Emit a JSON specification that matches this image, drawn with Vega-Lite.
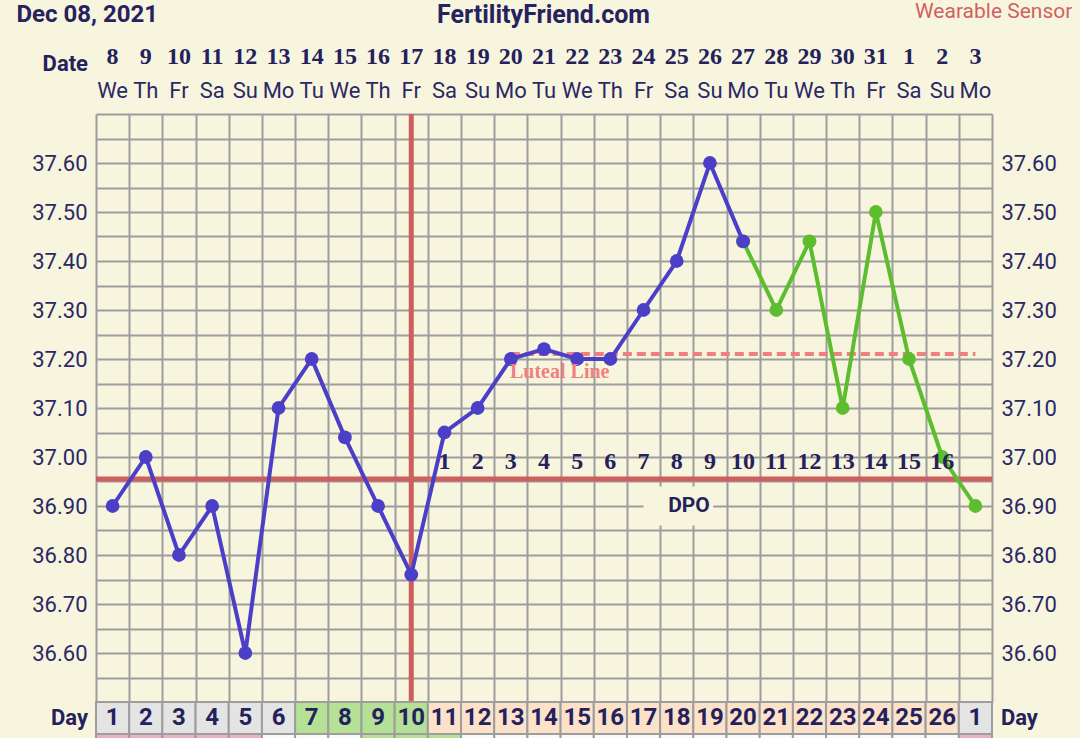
{
  "$schema": "https://vega.github.io/schema/vega-lite/v6.json",
  "width": 896,
  "height": 588,
  "autosize": {"type": "none"},
  "padding": {"left": 96, "top": 114, "right": 88, "bottom": 36},
  "background": "#f7f5de",
  "config": {"view": {"stroke": null}, "font": "Roboto"},
  "datasets": {
    "days": [
      {"i": 1, "date": "8", "wd": "We", "cd": "1", "dpo": null, "cell": "gray", "strip": "pink"},
      {"i": 2, "date": "9", "wd": "Th", "cd": "2", "dpo": null, "cell": "gray", "strip": "pink"},
      {"i": 3, "date": "10", "wd": "Fr", "cd": "3", "dpo": null, "cell": "gray", "strip": "pink"},
      {"i": 4, "date": "11", "wd": "Sa", "cd": "4", "dpo": null, "cell": "gray", "strip": "pink"},
      {"i": 5, "date": "12", "wd": "Su", "cd": "5", "dpo": null, "cell": "gray", "strip": "pink"},
      {"i": 6, "date": "13", "wd": "Mo", "cd": "6", "dpo": null, "cell": "gray", "strip": "white"},
      {"i": 7, "date": "14", "wd": "Tu", "cd": "7", "dpo": null, "cell": "green", "strip": "white"},
      {"i": 8, "date": "15", "wd": "We", "cd": "8", "dpo": null, "cell": "green", "strip": "white"},
      {"i": 9, "date": "16", "wd": "Th", "cd": "9", "dpo": null, "cell": "green", "strip": "green"},
      {"i": 10, "date": "17", "wd": "Fr", "cd": "10", "dpo": null, "cell": "green", "strip": "green"},
      {"i": 11, "date": "18", "wd": "Sa", "cd": "11", "dpo": "1", "cell": "peach", "strip": "green"},
      {"i": 12, "date": "19", "wd": "Su", "cd": "12", "dpo": "2", "cell": "peach", "strip": "white"},
      {"i": 13, "date": "20", "wd": "Mo", "cd": "13", "dpo": "3", "cell": "peach", "strip": "white"},
      {"i": 14, "date": "21", "wd": "Tu", "cd": "14", "dpo": "4", "cell": "peach", "strip": "white"},
      {"i": 15, "date": "22", "wd": "We", "cd": "15", "dpo": "5", "cell": "peach", "strip": "white"},
      {"i": 16, "date": "23", "wd": "Th", "cd": "16", "dpo": "6", "cell": "peach", "strip": "white"},
      {"i": 17, "date": "24", "wd": "Fr", "cd": "17", "dpo": "7", "cell": "peach", "strip": "white"},
      {"i": 18, "date": "25", "wd": "Sa", "cd": "18", "dpo": "8", "cell": "peach", "strip": "white"},
      {"i": 19, "date": "26", "wd": "Su", "cd": "19", "dpo": "9", "cell": "peach", "strip": "white"},
      {"i": 20, "date": "27", "wd": "Mo", "cd": "20", "dpo": "10", "cell": "peach", "strip": "white"},
      {"i": 21, "date": "28", "wd": "Tu", "cd": "21", "dpo": "11", "cell": "peach", "strip": "white"},
      {"i": 22, "date": "29", "wd": "We", "cd": "22", "dpo": "12", "cell": "peach", "strip": "white"},
      {"i": 23, "date": "30", "wd": "Th", "cd": "23", "dpo": "13", "cell": "peach", "strip": "white"},
      {"i": 24, "date": "31", "wd": "Fr", "cd": "24", "dpo": "14", "cell": "peach", "strip": "white"},
      {"i": 25, "date": "1", "wd": "Sa", "cd": "25", "dpo": "15", "cell": "peach", "strip": "white"},
      {"i": 26, "date": "2", "wd": "Su", "cd": "26", "dpo": "16", "cell": "peach", "strip": "white"},
      {"i": 27, "date": "3", "wd": "Mo", "cd": "1", "dpo": null, "cell": "gray", "strip": "pink"}
    ],
    "temps": [
      {"day": 20, "temp": 37.44, "series": "green"},
      {"day": 21, "temp": 37.30, "series": "green"},
      {"day": 22, "temp": 37.44, "series": "green"},
      {"day": 23, "temp": 37.10, "series": "green"},
      {"day": 24, "temp": 37.50, "series": "green"},
      {"day": 25, "temp": 37.20, "series": "green"},
      {"day": 26, "temp": 37.00, "series": "green"},
      {"day": 27, "temp": 36.90, "series": "green"},
      {"day": 1, "temp": 36.90, "series": "blue"},
      {"day": 2, "temp": 37.00, "series": "blue"},
      {"day": 3, "temp": 36.80, "series": "blue"},
      {"day": 4, "temp": 36.90, "series": "blue"},
      {"day": 5, "temp": 36.60, "series": "blue"},
      {"day": 6, "temp": 37.10, "series": "blue"},
      {"day": 7, "temp": 37.20, "series": "blue"},
      {"day": 8, "temp": 37.04, "series": "blue"},
      {"day": 9, "temp": 36.90, "series": "blue"},
      {"day": 10, "temp": 36.76, "series": "blue"},
      {"day": 11, "temp": 37.05, "series": "blue"},
      {"day": 12, "temp": 37.10, "series": "blue"},
      {"day": 13, "temp": 37.20, "series": "blue"},
      {"day": 14, "temp": 37.22, "series": "blue"},
      {"day": 15, "temp": 37.20, "series": "blue"},
      {"day": 16, "temp": 37.20, "series": "blue"},
      {"day": 17, "temp": 37.30, "series": "blue"},
      {"day": 18, "temp": 37.40, "series": "blue"},
      {"day": 19, "temp": 37.60, "series": "blue"},
      {"day": 20, "temp": 37.44, "series": "blue"}
    ]
  },
  "resolve": {"axis": {"y": "independent"}},
  "layer": [
    {
      "data": {"values": [{}]},
      "mark": {"type": "rect", "fill": "#f7f5de"},
      "encoding": {
        "x": {"datum": 17.0, "type": "quantitative", "scale": {"type": "linear", "domain": [0.5, 27.5], "nice": false, "zero": false, "padding": 0},
          "axis": {"values": [0.5,1.5,2.5,3.5,4.5,5.5,6.5,7.5,8.5,9.5,10.5,11.5,12.5,13.5,14.5,15.5,16.5,17.5,18.5,19.5,20.5,21.5,22.5,23.5,24.5,25.5,26.5,27.5],
            "tickCount": 40, "grid": true, "gridColor": "#9d9d9d", "gridWidth": 2, "gridOpacity": 1, "labels": false, "ticks": false, "domain": false, "title": null}},
        "x2": {"datum": 19.1},
        "y": {"datum": 36.94, "type": "quantitative", "scale": {"type": "linear", "domain": [36.5, 37.7], "nice": false, "zero": false, "padding": 0},
          "axis": {"orient": "left", "values": [36.5,36.55,36.6,36.65,36.7,36.75,36.8,36.85,36.9,36.95,37.0,37.05,37.1,37.15,37.2,37.25,37.3,37.35,37.4,37.45,37.5,37.55,37.6,37.65,37.7],
            "tickCount": 40, "grid": true, "gridColor": "#9d9d9d", "gridWidth": 2, "gridOpacity": 1, "ticks": false, "domain": false, "title": null,
            "labelExpr": "(datum.value > 36.57 && datum.value < 37.63 && abs(datum.value*10 - round(datum.value*10)) < 0.01) ? format(datum.value, '.2f') : ''",
            "labelOverlap": false, "labelFlush": false, "labelBound": false, "labelPadding": 9, "labelFont": "Roboto", "labelFontSize": 22, "labelColor": "#2b2866"}},
        "y2": {"datum": 36.86}
      }
    },
    {
      "data": {"values": [{}]},
      "mark": {"type": "rule", "color": "#cd5f5f", "strokeWidth": 5},
      "encoding": {"x": {"datum": 0.5}, "x2": {"datum": 27.5}, "y": {"datum": 36.955, "axis": null}}
    },
    {
      "data": {"values": [{}]},
      "mark": {"type": "rule", "color": "#cd5f5f", "strokeWidth": 5},
      "encoding": {"x": {"datum": 10}, "y": {"datum": 37.70, "axis": null}, "y2": {"datum": 36.50}}
    },
    {
      "data": {"values": [{}]},
      "mark": {"type": "rule", "color": "#f08080", "strokeWidth": 4, "strokeDash": [9, 5]},
      "encoding": {"x": {"datum": 13}, "x2": {"datum": 27}, "y": {"datum": 37.21, "axis": null}}
    },
    {
      "data": {"name": "temps"},
      "mark": {"type": "line", "strokeWidth": 4},
      "encoding": {
        "x": {"field": "day", "type": "quantitative"},
        "y": {"field": "temp", "type": "quantitative", "axis": null},
        "color": {"field": "series", "type": "nominal", "scale": {"domain": ["blue", "green"], "range": ["#4b3fc7", "#5cbd2f"]}, "legend": null}
      }
    },
    {
      "data": {"name": "temps"},
      "mark": {"type": "point", "filled": true, "opacity": 1, "size": 190},
      "encoding": {
        "x": {"field": "day", "type": "quantitative"},
        "y": {"field": "temp", "type": "quantitative",
          "axis": {"orient": "right", "values": [36.6,36.7,36.8,36.9,37.0,37.1,37.2,37.3,37.4,37.5,37.6], "format": ".2f", "tickCount": 40,
            "grid": false, "ticks": false, "domain": false, "title": null, "labelOverlap": false, "labelFlush": false, "labelBound": false,
            "labelPadding": 9, "labelFont": "Roboto", "labelFontSize": 22, "labelColor": "#2b2866"}},
        "color": {"field": "series", "type": "nominal", "legend": null}
      }
    },
    {
      "data": {"name": "days"},
      "transform": [{"filter": "datum.dpo != null"}],
      "mark": {"type": "text", "font": "Liberation Serif", "fontWeight": "bold", "fontSize": 24, "color": "#24215c", "baseline": "middle", "align": "center"},
      "encoding": {"x": {"field": "i", "type": "quantitative"}, "y": {"datum": 36.99, "axis": null}, "text": {"field": "dpo"}}
    },
    {
      "data": {"values": [{}]},
      "mark": {"type": "text", "text": "DPO", "font": "Roboto", "fontWeight": "bold", "fontSize": 21, "color": "#24215c", "baseline": "middle", "align": "center"},
      "encoding": {"x": {"datum": 18.37}, "y": {"datum": 36.90, "axis": null}}
    },
    {
      "data": {"values": [{}]},
      "mark": {"type": "text", "text": "Luteal Line", "font": "Liberation Serif", "fontWeight": "bold", "fontSize": 20, "color": "#f08080", "baseline": "middle", "align": "left"},
      "encoding": {"x": {"datum": 12.975}, "y": {"datum": 37.1735, "axis": null}}
    },
    {
      "data": {"name": "days"},
      "mark": {"type": "bar", "width": 33.185, "stroke": "#9d9d9d", "strokeWidth": 2},
      "encoding": {
        "x": {"field": "i", "type": "quantitative"},
        "y": {"datum": 36.50, "axis": null},
        "y2": {"datum": 36.4347},
        "fill": {"field": "cell", "type": "nominal", "scale": {"domain": ["gray", "green", "peach", "pink", "white"], "range": ["#e4e4e4", "#b4e196", "#fce2c9", "#e9b3c3", "#fafafa"]}, "legend": null}
      }
    },
    {
      "data": {"name": "days"},
      "mark": {"type": "bar", "width": 33.185, "stroke": "#9d9d9d", "strokeWidth": 2},
      "encoding": {
        "x": {"field": "i", "type": "quantitative"},
        "y": {"datum": 36.4347, "axis": null},
        "y2": {"datum": 36.39},
        "fill": {"field": "strip", "type": "nominal", "legend": null}
      }
    },
    {
      "data": {"name": "days"},
      "mark": {"type": "text", "font": "Roboto", "fontWeight": "bold", "fontSize": 24, "color": "#24215c", "baseline": "middle", "align": "center"},
      "encoding": {"x": {"field": "i", "type": "quantitative"}, "y": {"datum": 36.467, "axis": null}, "text": {"field": "cd"}}
    },
    {
      "data": {"name": "days"},
      "mark": {"type": "text", "font": "Liberation Serif", "fontWeight": "bold", "fontSize": 24, "color": "#24215c", "baseline": "middle", "align": "center"},
      "encoding": {"x": {"field": "i", "type": "quantitative"}, "y": {"datum": 37.816, "axis": null}, "text": {"field": "date"}}
    },
    {
      "data": {"name": "days"},
      "mark": {"type": "text", "font": "Roboto", "fontSize": 22, "color": "#2b2866", "baseline": "middle", "align": "center"},
      "encoding": {"x": {"field": "i", "type": "quantitative"}, "y": {"datum": 37.747, "axis": null}, "text": {"field": "wd"}}
    },
    {
      "data": {"values": [{}]},
      "mark": {"type": "text", "text": "Date", "font": "Roboto", "fontWeight": "bold", "fontSize": 22, "color": "#24215c", "baseline": "middle", "align": "right"},
      "encoding": {"x": {"datum": 0.259}, "y": {"datum": 37.802, "axis": null}}
    },
    {
      "data": {"values": [{}]},
      "mark": {"type": "text", "text": "Day", "font": "Roboto", "fontWeight": "bold", "fontSize": 22, "color": "#24215c", "baseline": "middle", "align": "right"},
      "encoding": {"x": {"datum": 0.259}, "y": {"datum": 36.467, "axis": null}}
    },
    {
      "data": {"values": [{}]},
      "mark": {"type": "text", "text": "Day", "font": "Roboto", "fontWeight": "bold", "fontSize": 22, "color": "#24215c", "baseline": "middle", "align": "left"},
      "encoding": {"x": {"datum": 27.77}, "y": {"datum": 36.467, "axis": null}}
    },
    {
      "data": {"values": [{}]},
      "mark": {"type": "text", "text": "Dec 08, 2021", "font": "Roboto", "fontWeight": "bold", "fontSize": 24, "color": "#25225e", "baseline": "middle", "align": "left"},
      "encoding": {"x": {"datum": -1.896}, "y": {"datum": 37.903, "axis": null}}
    },
    {
      "data": {"values": [{}]},
      "mark": {"type": "text", "text": "FertilityFriend.com", "font": "Roboto", "fontWeight": "bold", "fontSize": 25, "color": "#25225e", "baseline": "middle", "align": "center"},
      "encoding": {"x": {"datum": 13.985}, "y": {"datum": 37.903, "axis": null}}
    },
    {
      "data": {"values": [{}]},
      "mark": {"type": "text", "text": "Wearable Sensor", "font": "Roboto", "fontSize": 21, "color": "#d06262", "baseline": "middle", "align": "left"},
      "encoding": {"x": {"datum": 25.18}, "y": {"datum": 37.909, "axis": null}}
    }
  ]
}
